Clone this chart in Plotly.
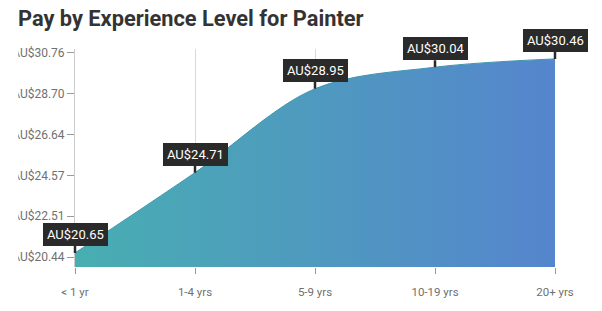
import plotly.graph_objects as go

categories = ["< 1 yr", "1-4 yrs", "5-9 yrs", "10-19 yrs", "20+ yrs"]
pay = [20.65, 24.71, 28.95, 30.04, 30.46]
pay_labels = ["AU$20.65", "AU$24.71", "AU$28.95", "AU$30.04", "AU$30.46"]
ytick_vals = [20.44, 22.51, 24.57, 26.64, 28.70, 30.76]
ytick_text = ["AU$20.44", "AU$22.51", "AU$24.57", "AU$26.64", "AU$28.70", "AU$30.76"]

W, H = 602, 311
ML, MR, MT, MB = 73, 47, 49, 43

fig = go.Figure()
fig.add_trace(go.Scatter(
    x=categories, y=pay, mode="lines",
    line=dict(shape="spline", smoothing=0.95, color="#3E97AE", width=1),
    fill="tozeroy",
    fillgradient=dict(type="horizontal",
                      colorscale=[[0, "#48AEB1"], [1, "#5585CD"]]),
    hoverinfo="skip", showlegend=False,
))

for c, v, t in zip(categories, pay, pay_labels):
    fig.add_annotation(
        x=c, y=v, text=t, showarrow=True, arrowhead=0, arrowwidth=2.5,
        arrowcolor="#2A2A2A", ax=0, ay=-7, yanchor="bottom",
        bgcolor="#2A2A2A", bordercolor="#2A2A2A", borderpad=3,
        font=dict(family="Roboto", size=13, color="white"),
    )

# white mask clipping the left edge of the y tick labels as in the reference
pw = W - ML - MR
ph = H - MT - MB
fig.add_shape(type="rect", xref="paper", yref="paper", layer="above",
              x0=(-2 - ML) / pw, x1=(16 - ML) / pw,
              y0=-10 / ph, y1=1 + 10 / ph,
              fillcolor="white", line=dict(width=0))

fig.update_layout(
    width=W, height=H,
    margin=dict(l=ML, r=MR, t=MT, b=MB),
    paper_bgcolor="white", plot_bgcolor="white",
    title=dict(text="<b>Pay by Experience Level for Painter</b>",
               x=18 / W, xanchor="left", y=1 - 18 / H, yanchor="middle",
               font=dict(family="Roboto", size=21.8, color="#333333")),
    font=dict(family="Roboto", color="#666666", size=11),
)
fig.update_xaxes(
    type="category", range=[0, 4], showgrid=True, gridcolor="#D8D8D8",
    gridwidth=1, layer="above traces", showline=False,
    ticks="outside", ticklen=6, tickcolor="#999999",
    ticklabelstandoff=8,
    tickfont=dict(family="Roboto", size=11.5, color="#707070"),
    zeroline=False,
)
fig.update_yaxes(
    range=[19.94, 30.96], tickvals=ytick_vals, ticktext=ytick_text,
    showgrid=False, zeroline=False, showline=True, linecolor="#CCCCCC",
    ticks="outside", ticklen=7, tickcolor="#999999",
    tickfont=dict(family="Roboto", size=12, color="#707070"),
)

fig.write_html("out.html")
